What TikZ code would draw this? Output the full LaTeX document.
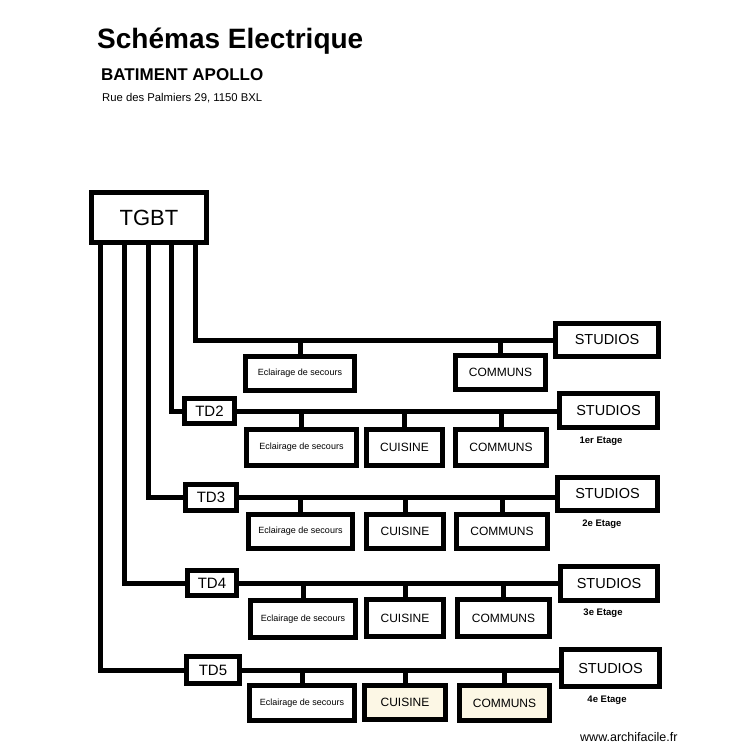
\documentclass[tikz,border=0pt]{standalone}
\usepackage{fontspec}
\setmainfont{Liberation Sans}
\definecolor{cream}{RGB}{252,247,229}
\tikzset{
  box/.style={draw, line width=5pt, inner sep=0pt, align=center},
  wire/.style={line width=5pt, line join=miter},
  ftg/.style={font=\fontsize{22}{26}\selectfont},
  fst/.style={font=\fontsize{14.5}{17}\selectfont},
  ftd/.style={font=\fontsize{15}{18}\selectfont},
  fcm/.style={font=\fontsize{12}{14}\selectfont},
  fec/.style={font=\fontsize{9}{11}\selectfont},
  fet/.style={font=\bfseries\fontsize{9.5}{11}\selectfont, inner sep=0pt},
  txt/.style={inner sep=0pt, anchor=base west},
}
% #1 fill, #2 name, #3 x1, #4 x2, #5 y1, #6 y2, #7 text, #8 style
\newcommand\ebox[8][white]{%
  \node[box, fill=#1, #8, minimum width={#4-#3-5}, minimum height={#6-#5-5}]
    (#2) at ({(#3+#4)/2},{(#5+#6)/2}) {#7};}
\begin{document}
\begin{tikzpicture}[x=1pt, y=-1pt]
\useasboundingbox[fill=white] (0,0) rectangle (750,750);

% titles
\node[txt, font=\bfseries\fontsize{28}{33}\selectfont] (title) at (97,48) {Schémas Electrique};
\node[txt, font=\bfseries\fontsize{17}{20}\selectfont] (bat) at (101,80) {BATIMENT APOLLO};
\node[txt, font=\fontsize{11.3}{13}\selectfont] (addr) at (102,101) {Rue des Palmiers 29, 1150 BXL};
\node[txt, font=\fontsize{12.5}{15}\selectfont] (www) at (580,741) {www.archifacile.fr};

% boxes
\ebox{tgbt}{89}{209}{190}{245}{TGBT}{ftg}
\ebox{st1}{553}{661}{321}{359}{STUDIOS}{fst}
\ebox{ec1}{243}{357}{354}{393}{Eclairage de secours}{fec}
\ebox{cm1}{453}{548}{353}{392}{COMMUNS}{fcm}

\ebox{td2}{182}{237}{396}{426}{TD2}{ftd}
\ebox{st2}{557}{660}{391}{430}{STUDIOS}{fst}
\ebox{ec2}{244}{359}{427}{468}{Eclairage de secours}{fec}
\ebox{cu2}{364}{445}{427}{468}{CUISINE}{fcm}
\ebox{cm2}{453}{549}{427}{468}{COMMUNS}{fcm}

\ebox{td3}{183}{239}{482}{513}{TD3}{ftd}
\ebox{st3}{555}{660}{475}{513}{STUDIOS}{fst}
\ebox{ec3}{246}{355}{512}{551}{Eclairage de secours}{fec}
\ebox{cu3}{364}{446}{512}{551}{CUISINE}{fcm}
\ebox{cm3}{454}{550}{512}{551}{COMMUNS}{fcm}

\ebox{td4}{185}{239}{568}{598}{TD4}{ftd}
\ebox{st4}{558}{660}{564}{603}{STUDIOS}{fst}
\ebox{ec4}{248}{358}{598}{640}{Eclairage de secours}{fec}
\ebox{cu4}{364}{446}{597}{639}{CUISINE}{fcm}
\ebox{cm4}{455}{552}{597}{639}{COMMUNS}{fcm}

\ebox{td5}{184}{242}{654}{686}{TD5}{ftd}
\ebox{st5}{559}{662}{647}{689}{STUDIOS}{fst}
\ebox{ec5}{247}{357}{683}{723}{Eclairage de secours}{fec}
\ebox[cream]{cu5}{362}{448}{683}{722}{CUISINE}{fcm}
\ebox[cream]{cm5}{457}{552}{683}{723}{COMMUNS}{fcm}

% floor labels
\node[fet, anchor=base] (e1) at (601,443.5) {1er Etage};
\node[fet, anchor=base] (e2) at (602,526) {2e Etage};
\node[fet, anchor=base] (e3) at (603,615) {3e Etage};
\node[fet, anchor=base] (e4) at (607,702.5) {4e Etage};

% trunk x positions
\coordinate (x1) at (195,0);
\coordinate (x2) at (171,0);
\coordinate (x3) at (148,0);
\coordinate (x4) at (124,0);
\coordinate (x5) at (100,0);

% trunks
\draw[wire] (tgbt.south -| x1) |- (st1.west);
\draw[wire] (tgbt.south -| x2) |- (td2.west);
\draw[wire] (tgbt.south -| x3) |- (td3.west);
\draw[wire] (tgbt.south -| x4) |- (td4.west);
\draw[wire] (tgbt.south -| x5) |- (td5.west);

% row 1 drops
\draw[wire] (ec1.north) -- (ec1.north |- st1.west);
\draw[wire] (cm1.north) -- (cm1.north |- st1.west);

% rows 2-5
\foreach \r in {2,3,4,5}{
  \draw[wire] (td\r.east) -- (td\r.east -| st\r.west);
  \draw[wire] (ec\r.north) -- (ec\r.north |- td\r.east);
  \draw[wire] (cu\r.north) -- (cu\r.north |- td\r.east);
  \draw[wire] (cm\r.north) -- (cm\r.north |- td\r.east);
}
\end{tikzpicture}
\end{document}
